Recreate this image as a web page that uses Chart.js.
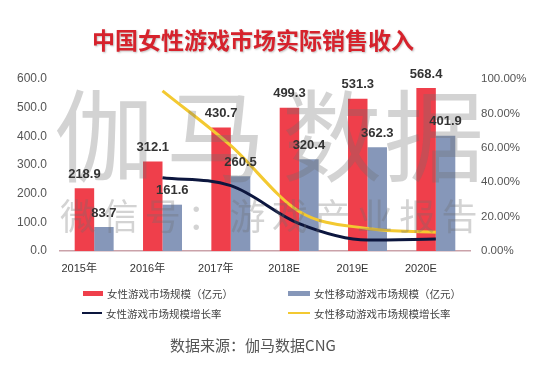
<!DOCTYPE html>
<html>
<head>
<meta charset="utf-8">
<script src="https://cdn.jsdelivr.net/npm/chart.js@4/dist/chart.umd.min.js"></script>
<style>
  html, body { margin: 0; padding: 0; background: #fff; }
  .wrap { position: relative; width: 554px; height: 369px; overflow: hidden; }
  canvas { position: absolute; left: 0; top: 0; }
  .title {
    position: absolute; left: 0; width: 506px; top: 26px; text-align: center;
    font: bold 23px "Noto Sans CJK SC", sans-serif; color: #d6222c;
    text-shadow: 1px 1px 2px rgba(0,0,0,0.25); line-height: 26px;
  }
  .legend { position: absolute; left: 0; top: 0; width: 554px; height: 369px; pointer-events: none; }
  .legend .item { position: absolute; display: flex; align-items: center; height: 14px;
    font: 10.5px "Noto Sans CJK SC", sans-serif; color: #444; white-space: nowrap; }
  .legend .sw { display: inline-block; margin-right: 4px; }
  .source {
    position: absolute; left: 0; width: 506px; top: 336px; text-align: center;
    font: 15px "Noto Sans CJK SC", sans-serif; color: #555; line-height: 18px;
  }
</style>
</head>
<body>
<div class="wrap">
  <canvas id="chart" width="554" height="369"></canvas>
  <div class="title">中国女性游戏市场实际销售收入</div>
  <div class="legend" id="legend"></div>
  <div class="source">数据来源：伽马数据CNG</div>
</div>
<script>
// values
const categories = ['2015年', '2016年', '2017年', '2018E', '2019E', '2020E'];
const femaleMarket = [218.9, 312.1, 430.7, 499.3, 531.3, 568.4];      // 亿元
const femaleMobileMarket = [83.7, 161.6, 260.5, 320.4, 362.3, 401.9]; // 亿元
const femaleGrowth = [null, 42.6, 38.0, 15.9, 6.4, 7.0];               // %
const femaleMobileGrowth = [null, 93.1, 61.2, 23.0, 13.1, 10.9];       // %

const seriesNames = ['女性游戏市场规模（亿元）', '女性移动游戏市场规模（亿元）', '女性游戏市场规模增长率', '女性移动游戏市场规模增长率'];
const watermarkMain = '伽马数据';
const watermarkSub = '微信号：游戏产业报告';

const RED = '#ef3f4b';
const BLUE = '#8697b9';
const NAVY = '#0c163e';
const YELLOW = '#f3c931';

// bar value labels + watermark
const labelPlugin = {
    id: 'barLabels',
    afterDatasetsDraw(chart) {
        const ctx = chart.ctx;
        // watermark over the bars
        ctx.save();
        ctx.fillStyle = 'rgba(110,110,110,0.30)';
        ctx.textAlign = 'center';
        ctx.textBaseline = 'middle';
        ctx.font = '100px "Noto Sans CJK SC"';
        const mainX = [104, 216, 332, 434];
        [...watermarkMain].forEach((ch, i) => ctx.fillText(ch, mainX[i], 136));
        ctx.font = '36px "Noto Sans CJK SC"';
        [...watermarkSub].forEach((ch, i) => ctx.fillText(ch, 78 + i * 42.4, 216));
        ctx.restore();

        ctx.save();
        ctx.font = 'bold 13px "Liberation Sans", "DejaVu Sans", sans-serif';
        ctx.fillStyle = '#333';
        ctx.textAlign = 'center';
        ctx.textBaseline = 'middle';
        [0, 1].forEach(di => {
            const meta = chart.getDatasetMeta(di);
            const vals = chart.data.datasets[di].data;
            meta.data.forEach((bar, i) => {
                ctx.fillText(vals[i].toFixed(1), bar.x, bar.y - 14);
            });
        });
        ctx.restore();
    }
};

const chart = new Chart(document.getElementById('chart'), {
    data: {
        labels: categories,
        datasets: [
            { type: 'bar', label: seriesNames[0], data: femaleMarket, backgroundColor: RED, yAxisID: 'y', order: 1, barPercentage: 1, categoryPercentage: 0.57 },
            { type: 'bar', label: seriesNames[1], data: femaleMobileMarket, backgroundColor: BLUE, yAxisID: 'y', order: 1, barPercentage: 1, categoryPercentage: 0.57 },
            { type: 'line', label: seriesNames[2], data: femaleGrowth, borderColor: NAVY, borderWidth: 3, pointRadius: 0, cubicInterpolationMode: 'monotone', yAxisID: 'y1', order: 0 },
            { type: 'line', label: seriesNames[3], data: femaleMobileGrowth, borderColor: YELLOW, borderWidth: 3, pointRadius: 0, cubicInterpolationMode: 'monotone', yAxisID: 'y1', order: 0 }
        ]
    },
    options: {
        responsive: false,
        animation: false,
        devicePixelRatio: 1,
        layout: { padding: { top: 79, left: 0, right: 0, bottom: 0 } },
        plugins: { legend: { display: false }, tooltip: { enabled: false } },
        scales: {
            x: {
                grid: { display: false, drawTicks: false },
                border: { display: true, color: '#caa2a9', width: 1.5 },
                ticks: { color: '#333', padding: 11, labelOffset: -15, font: { size: 11, family: '"Liberation Sans", "Noto Sans CJK SC"' } },
                afterFit: s => { s.height = 118; }
            },
            y: {
                position: 'left', min: 0, max: 600,
                grid: { display: false, drawTicks: false },
                border: { display: false },
                ticks: { stepSize: 100, color: '#555', padding: 13, font: { size: 12, family: '"Liberation Sans"' }, callback: v => v.toFixed(1) },
                afterFit: s => { s.width = 60; }
            },
            y1: {
                position: 'right', min: 0, max: 100,
                grid: { display: false, drawTicks: false },
                border: { display: false },
                ticks: { stepSize: 20, color: '#555', padding: 11, font: { size: 11.5, family: '"Liberation Sans"' }, callback: v => v.toFixed(2) + '%' },
                afterFit: s => { s.width = 84; }
            }
        }
    },
    plugins: [labelPlugin]
});

// legend in two columns, built from the chart's datasets
const legendPos = [[83, 293], [288, 293], [82, 313], [288, 313]];
const legendEl = document.getElementById('legend');
chart.data.datasets.forEach((ds, i) => {
    const item = document.createElement('div');
    item.className = 'item';
    item.style.left = legendPos[i][0] + 'px';
    item.style.top = (legendPos[i][1] - 7) + 'px';
    const sw = document.createElement('span');
    sw.className = 'sw';
    const isBar = ds.type === 'bar';
    sw.style.width = (i % 2 ? 22 : 20) + 'px';
    sw.style.height = isBar ? '5px' : '2.5px';
    sw.style.background = isBar ? ds.backgroundColor : ds.borderColor;
    item.appendChild(sw);
    item.appendChild(document.createTextNode(ds.label));
    legendEl.appendChild(item);
});
</script>
</body>
</html>
